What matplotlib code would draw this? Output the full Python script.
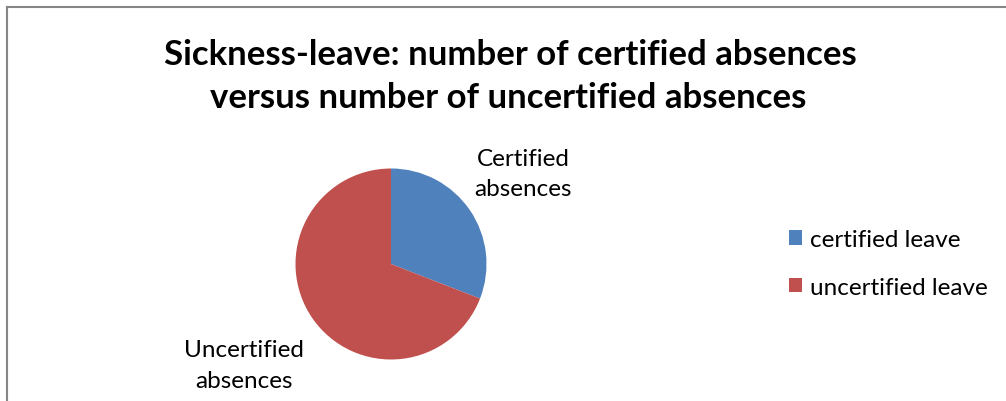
import numpy as np
import matplotlib
matplotlib.use("Agg")
import matplotlib.pyplot as plt
from matplotlib.lines import Line2D

plt.rcParams['font.family'] = ['Lato', 'DejaVu Sans']

title_lines = ["Sickness-leave: number of certified absences",
               "versus number of uncertified absences"]
slice_labels = ["Certified\nabsences", "Uncertified\nabsences"]
legend_labels = ["certified leave", "uncertified leave"]
values = [30.9, 69.1]
colors = ["#4F81BD", "#C0504D"]

W, H = 1006, 402
fig = plt.figure(figsize=(W / 100, H / 100), dpi=100)

# border (top and left)
fig.add_artist(Line2D([6.5 / W, 1], [1 - 7.5 / H, 1 - 7.5 / H], transform=fig.transFigure,
                      color="#868686", lw=1.5))
fig.add_artist(Line2D([6.5 / W, 6.5 / W], [0, 1 - 7.5 / H], transform=fig.transFigure,
                      color="#868686", lw=1.5))

# title
fig.text(510 / W, 1 - 55 / H, title_lines[0], ha="center", va="center",
         fontsize=25, fontweight="bold", color="black")
fig.text(508 / W, 1 - 98 / H, title_lines[1], ha="center", va="center",
         fontsize=25, fontweight="bold", color="black")

cx, cy, r = 391, 265, 95.5
ax = fig.add_axes([(cx - r) / W, (H - cy - r) / H, 2 * r / W, 2 * r / H])
wedges, _ = ax.pie(values, colors=colors, startangle=90, counterclock=False,
                   radius=1, wedgeprops=dict(linewidth=0))
ax.set_xlim(-1, 1)
ax.set_ylim(-1, 1)
ax.set_aspect("equal")
ax.axis("off")

label_dist = [1.68, 1.87]
for w, lab, d in zip(wedges, slice_labels, label_dist):
    th = np.deg2rad((w.theta1 + w.theta2) / 2)
    ax.text(d * np.cos(th), d * np.sin(th), lab, ha="center", va="center",
            fontsize=17.5, color="black", linespacing=1.55, clip_on=False)

fig.legend(wedges, legend_labels, loc="center left",
           bbox_to_anchor=(789 / W, 1 - 264.5 / H), frameon=False,
           fontsize=17.5, handlelength=0.54, handleheight=0.54,
           handletextpad=0.33, labelspacing=1.09, borderpad=0, borderaxespad=0)

fig.savefig("out.png", dpi=100)
